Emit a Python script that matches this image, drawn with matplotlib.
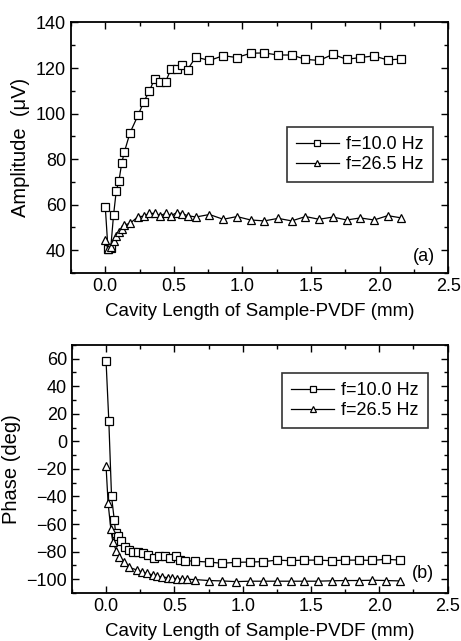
import matplotlib
matplotlib.use("Agg")
import matplotlib.pyplot as plt
from matplotlib.ticker import MultipleLocator

plt.rcParams['font.family'] = ['Liberation Sans', 'DejaVu Sans']

# (a) amplitude vs cavity length
amp_x = [0.0, 0.02, 0.04, 0.06, 0.08, 0.10, 0.12, 0.14, 0.18, 0.24, 0.28, 0.32,
         0.36, 0.40, 0.44, 0.48, 0.52, 0.56, 0.60, 0.66, 0.76, 0.86, 0.96, 1.06,
         1.16, 1.26, 1.36, 1.46, 1.56, 1.66, 1.76, 1.86, 1.96, 2.06, 2.16]
amp_10 = [59.0, 40.4, 41.0, 55.3, 66.0, 70.6, 78.3, 83.3, 91.5, 99.4, 105.1, 109.7,
          115.3, 114.0, 114.0, 119.6, 119.6, 121.2, 119.3, 124.8, 123.3, 125.4, 124.6, 126.5,
          126.6, 125.7, 125.7, 123.8, 123.3, 126.0, 123.8, 124.6, 125.3, 123.5, 124.0]
amp_26 = [44.4, 40.6, 41.3, 44.1, 46.1, 47.9, 49.5, 51.1, 51.8, 54.8, 54.9, 56.2,
          56.2, 55.2, 56.2, 55.2, 56.5, 56.1, 55.2, 54.6, 55.7, 53.6, 54.8, 53.3,
          52.9, 54.0, 52.9, 54.8, 53.6, 54.6, 53.3, 54.2, 53.3, 55.2, 54.2]

# (b) phase vs cavity length
ph_x10 = [0.0, 0.02, 0.04, 0.06, 0.07, 0.09, 0.11, 0.14, 0.17, 0.20, 0.235, 0.27,
          0.305, 0.35, 0.39, 0.43, 0.47, 0.51, 0.54, 0.58, 0.65, 0.75, 0.85, 0.95,
          1.05, 1.15, 1.25, 1.35, 1.45, 1.55, 1.65, 1.75, 1.85, 1.95, 2.05, 2.15]
ph_10 = [58.0, 15.0, -40.0, -57.0, -66.6, -69.0, -72.0, -76.4, -78.8, -80.0, -80.5, -81.3,
         -82.2, -84.5, -83.2, -83.2, -85.0, -83.5, -85.9, -86.6, -87.0, -87.6, -88.5, -87.8,
         -87.6, -87.3, -86.2, -86.6, -86.2, -86.2, -86.6, -86.2, -86.2, -86.4, -85.6, -86.2]
ph_x26 = [0.0, 0.015, 0.035, 0.05, 0.075, 0.095, 0.13, 0.17, 0.23, 0.26, 0.30, 0.34,
          0.37, 0.41, 0.45, 0.48, 0.52, 0.555, 0.59, 0.65, 0.75, 0.85, 0.95, 1.05,
          1.15, 1.25, 1.35, 1.45, 1.55, 1.65, 1.75, 1.85, 1.95, 2.05, 2.15]
ph_26 = [-18.2, -45.1, -63.8, -73.2, -79.3, -83.7, -87.5, -91.5, -93.5, -94.7, -95.9, -96.9,
         -97.9, -98.4, -98.9, -99.4, -99.6, -100.1, -100.1, -100.3, -101.0, -101.3, -101.8, -101.5,
         -101.5, -101.5, -101.5, -101.5, -101.5, -101.2, -101.0, -101.0, -100.8, -101.0, -101.3]

labels = ['f=10.0 Hz', 'f=26.5 Hz']
xlabel = 'Cavity Length of Sample-PVDF (mm)'

fig = plt.figure(figsize=(4.61, 6.41), dpi=100)
ax0 = fig.add_axes([0.154, 0.574, 0.818, 0.391])
ax1 = fig.add_axes([0.156, 0.075, 0.815, 0.387])

mk = dict(color='black', lw=0.9, markerfacecolor='white', markeredgecolor='black',
          markeredgewidth=0.9, markersize=5.5)


def style(ax, ylo, yhi, ymaj, anchor):
    ax.set_xlim(-0.25, 2.5)
    ax.set_ylim(ylo, yhi)
    ax.xaxis.set_major_locator(MultipleLocator(0.5))
    ax.xaxis.set_minor_locator(MultipleLocator(0.25))
    ax.yaxis.set_major_locator(MultipleLocator(ymaj))
    ax.yaxis.set_minor_locator(MultipleLocator(ymaj / 2))
    ax.tick_params(which='both', direction='in', top=True, right=True, labelsize=13)
    ax.tick_params(which='major', length=5, width=1)
    ax.tick_params(which='minor', length=3, width=1)
    for s in ax.spines.values():
        s.set_linewidth(1.3)
    ax.set_xlabel(xlabel, fontsize=13.5, labelpad=6)
    leg = ax.legend(fontsize=13, frameon=True, fancybox=False, edgecolor='black',
                    handlelength=2.4, handletextpad=0.4, markerscale=0.7,
                    borderpad=0.5, labelspacing=0.15, borderaxespad=0,
                    loc='upper right', bbox_to_anchor=anchor)
    leg.get_frame().set_linewidth(1.2)


ax0.plot(amp_x, amp_10, marker='s', label=labels[0], **mk)
ax0.plot(amp_x, amp_26, marker='^', label=labels[1], **mk)
style(ax0, 30, 140, 20, (0.960, 0.582))
ax0.set_ylabel('Amplitude  (\u03bcV)', fontsize=14.5)
ax0.text(0.935, 0.065, '(a)', transform=ax0.transAxes, fontsize=13, ha='center', va='center')

ax1.plot(ph_x10, ph_10, marker='s', label=labels[0], **mk)
ax1.plot(ph_x26, ph_26, marker='^', label=labels[1], **mk)
style(ax1, -110, 70, 20, (0.948, 0.886))
ax1.set_ylabel('Phase (deg)', fontsize=14.5)
ax1.text(0.935, 0.078, '(b)', transform=ax1.transAxes, fontsize=13, ha='center', va='center')

fig.savefig('out.png', dpi=100)
